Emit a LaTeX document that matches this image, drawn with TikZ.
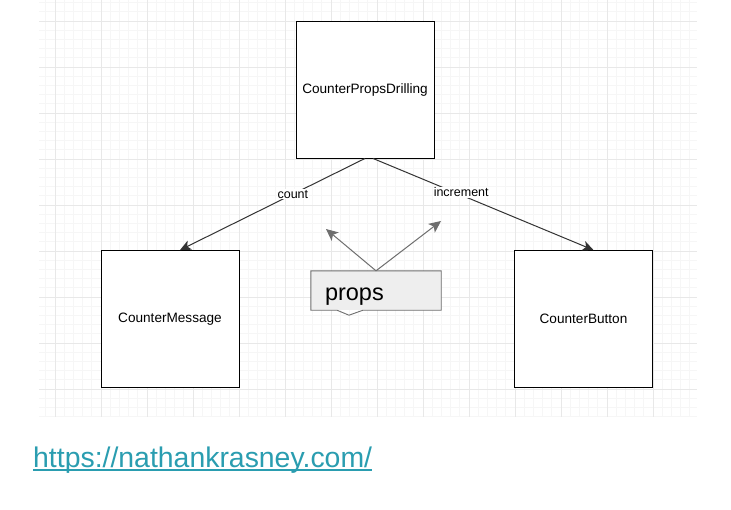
\documentclass[tikz,border=0pt]{standalone}
\usepackage{fontspec}
\setmainfont{Liberation Sans}
\usetikzlibrary{arrows.meta,positioning}

\definecolor{gridminor}{HTML}{F6F6F6}
\definecolor{gridmajor}{HTML}{E8E8E8}
\definecolor{calloutfill}{HTML}{EEEEEE}
\definecolor{calloutline}{HTML}{6E6E6E}
\definecolor{linkcol}{HTML}{2A9DB0}

\tikzset{
  component/.style={draw=black, line width=0.9pt, fill=white, minimum width=138pt,
    minimum height=137pt, font=\fontsize{13.6}{16}\selectfont},
  passline/.style={draw=black!80, line width=1pt, -{Stealth[length=11pt,width=10pt,inset=3pt]}},
  propline/.style={draw=calloutline, line width=1pt, -{Stealth[length=12pt,width=11pt,inset=3pt]}},
  passlabel/.style={fill=white, inner sep=1pt, font=\fontsize{12.5}{15}\selectfont},
}

\begin{document}
\begin{tikzpicture}[x=1pt,y=-1pt]
  \useasboundingbox[fill=white] (0,0) rectangle (731,509);
  % grid
  \begin{scope}
    \clip (39,0) rectangle (697,417);
    \foreach \i in {0,...,75} \draw[gridminor, line width=0.8pt] (9+9.2*\i,0) -- (9+9.2*\i,417);
    \foreach \j in {0,...,48} \draw[gridminor, line width=0.8pt] (39,-25+9.2*\j) -- (697,-25+9.2*\j);
    \foreach \i in {0,...,15} \draw[gridmajor, line width=0.9pt] (9+46*\i,0) -- (9+46*\i,417);
    \foreach \j in {0,...,9} \draw[gridmajor, line width=0.9pt] (39,-25+46*\j) -- (697,-25+46*\j);
  \end{scope}

  \node[component] (drilling) at (365,89.5) {CounterPropsDrilling};
  \node[component] (message) at (170,319) {CounterMessage};
  \node[component] (button) at (583.5,319) {CounterButton};

  \draw[passline] (drilling.south) -- ([xshift=10pt]message.north)
    node[passlabel, pos=0.39] (count) {count};
  \draw[passline] ([xshift=8pt]drilling.south) -- ([xshift=10pt]button.north)
    node[passlabel, pos=0.40, yshift=3pt] (increment) {increment};

  % props callout
  \node[fill=calloutfill, minimum width=130pt, minimum height=39pt, inner xsep=14pt,
    text width=102pt, align=left, text height=24pt, text depth=5pt,
    font=\fontsize{23.5}{26}\selectfont] (props) at (376,290.5) {props};
  \draw[calloutline, line width=0.9pt] (props.north west) -- (props.north east) -- (props.south east)
    -- ([xshift=-13pt]props.south) -- ([xshift=-27pt,yshift=-5pt]props.south)
    -- ([xshift=-39pt]props.south) -- (props.south west) -- cycle;
  \coordinate (leftend) at (326,229);
  \coordinate (rightend) at (441,221);
  \draw[propline] (props.north) -- (leftend);
  \draw[propline] (props.north) -- (rightend);

  % link
  \node[anchor=base west, inner sep=0pt, text=linkcol, font=\fontsize{28.4}{32}\selectfont]
    (url) at (33,467) {https://nathankrasney.com/};
  \draw[linkcol, line width=1.6pt] ([yshift=-3pt]url.base west) -- ([yshift=-3pt]url.base east);
\end{tikzpicture}
\end{document}
